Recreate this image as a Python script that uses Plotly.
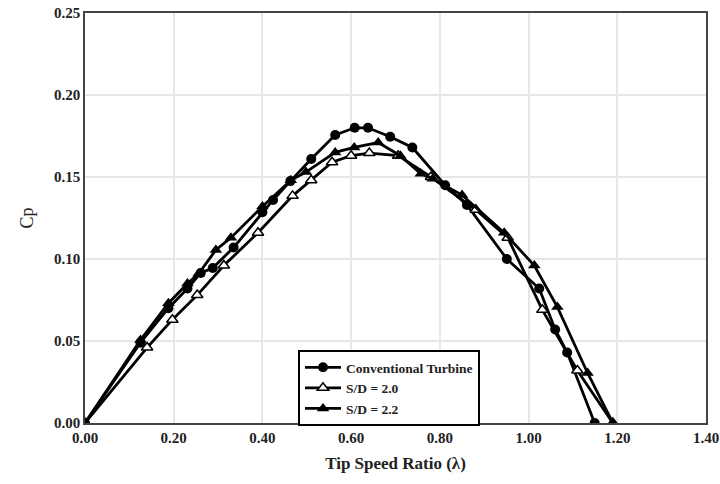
import plotly.graph_objects as go

conv_x = [0, 0.125, 0.188, 0.231, 0.261, 0.288, 0.335, 0.40, 0.424, 0.463, 0.51, 0.564, 0.608, 0.638, 0.688, 0.738, 0.812, 0.861, 0.951, 1.024, 1.06, 1.087, 1.149]
conv_y = [0, 0.049, 0.070, 0.082, 0.0915, 0.0945, 0.107, 0.1285, 0.136, 0.1475, 0.161, 0.1756, 0.180, 0.180, 0.1745, 0.168, 0.145, 0.133, 0.100, 0.082, 0.057, 0.043, 0]

sd20_x = [0, 0.14, 0.197, 0.253, 0.313, 0.39, 0.468, 0.51, 0.557, 0.60, 0.641, 0.706, 0.78, 0.881, 0.953, 1.031, 1.11, 1.19]
sd20_y = [0, 0.046, 0.063, 0.078, 0.096, 0.116, 0.1385, 0.148, 0.159, 0.163, 0.1646, 0.163, 0.150, 0.130, 0.113, 0.069, 0.032, 0]

sd22_x = [0, 0.125, 0.188, 0.231, 0.256, 0.295, 0.329, 0.40, 0.464, 0.498, 0.564, 0.607, 0.661, 0.711, 0.757, 0.784, 0.85, 0.945, 1.013, 1.065, 1.133, 1.19]
sd22_y = [0, 0.0506, 0.073, 0.085, 0.091, 0.1055, 0.113, 0.132, 0.148, 0.153, 0.165, 0.168, 0.171, 0.163, 0.152, 0.149, 0.139, 0.116, 0.096, 0.0707, 0.0305, 0]

x_ticks = [0.0, 0.2, 0.4, 0.6, 0.8, 1.0, 1.2, 1.4]
y_ticks = [0.0, 0.05, 0.10, 0.15, 0.20, 0.25]

font_family = "Liberation Serif"

fig = go.Figure()
fig.add_trace(go.Scatter(x=conv_x, y=conv_y, mode="lines+markers", name="Conventional Turbine",
                         line=dict(color="black", width=2.8),
                         marker=dict(symbol="circle", size=10, color="black")))
fig.add_trace(go.Scatter(x=sd20_x, y=sd20_y, mode="lines+markers", name="S/D = 2.0",
                         line=dict(color="black", width=2.8),
                         marker=dict(symbol="triangle-up", size=10, color="white",
                                     line=dict(color="black", width=1.5))))
fig.add_trace(go.Scatter(x=sd22_x, y=sd22_y, mode="lines+markers", name="S/D = 2.2",
                         line=dict(color="black", width=2.8),
                         marker=dict(symbol="triangle-up", size=11, color="black")))

fig.update_layout(
    width=720, height=484,
    margin=dict(l=85, r=14, t=13, b=61, autoexpand=False),
    paper_bgcolor="white", plot_bgcolor="white",
    font=dict(family=font_family, color="#222"),
    showlegend=True,
    legend=dict(x=0.343, y=0.178, xanchor="left", yanchor="top",
                bordercolor="black", borderwidth=2, bgcolor="white",
                font=dict(family=font_family, size=13.5, weight="bold", color="#222"),
                tracegroupgap=0, itemwidth=36),
)
fig.update_xaxes(range=[0, 1.4], tickvals=x_ticks, tickformat=".2f", automargin=False,
                 showgrid=True, gridcolor="#e6e6e6", gridwidth=1.5,
                 showline=True, linecolor="#444", linewidth=1.5, mirror=True,
                 ticks="", zeroline=False,
                 tickfont=dict(family=font_family, size=15, weight="bold", color="#222"),
                 title=dict(text="Tip Speed Ratio (λ)", standoff=12,
                            font=dict(family=font_family, size=17, weight="bold", color="#222")))
fig.update_yaxes(range=[0, 0.25], tickvals=y_ticks, tickformat=".2f", automargin=False,
                 showgrid=True, gridcolor="#e6e6e6", gridwidth=1.5,
                 showline=True, linecolor="#444", linewidth=1.5, mirror=True,
                 ticks="", zeroline=False,
                 tickfont=dict(family=font_family, size=15, weight="bold", color="#222"),
                 title=dict(text="Cp", standoff=16,
                            font=dict(family=font_family, size=18, color="#222")))

fig.write_html("out.html")
